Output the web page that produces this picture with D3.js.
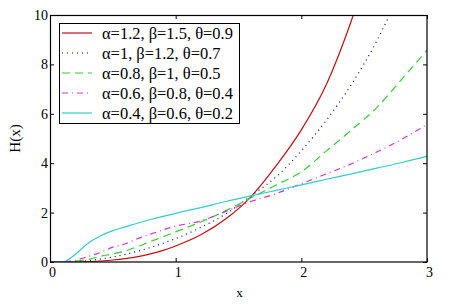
<!DOCTYPE html>
<html>
<head>
<meta charset="utf-8">
<script src="https://cdn.jsdelivr.net/npm/d3@7"></script>
<style>
  html, body { margin: 0; padding: 0; background: #fff; }
  svg { display: block; }
  svg text { font-family: "Liberation Serif", "Times New Roman", serif !important; fill: #000; }
</style>
</head>
<body>
<svg id="chart" width="457" height="304"></svg>
<script>
// ---- data ----
const xs = [0, 0.1, 0.2, 0.3, 0.4, 0.5, 0.6, 0.7, 0.8, 0.9, 1.0, 1.2, 1.4, 1.6, 1.8, 2.0, 2.2, 2.4, 2.6, 2.8, 3.0];
const seriesLabels = [
  "α=1.2, β=1.5, θ=0.9",
  "α=1, β=1.2, θ=0.7",
  "α=0.8, β=1, θ=0.5",
  "α=0.6, β=0.8, θ=0.4",
  "α=0.4, β=0.6, θ=0.2"
];
const redVals     = [0, 0, 0, 0.01, 0.04, 0.08, 0.14, 0.22, 0.33, 0.47, 0.65, 1.1, 1.75, 2.65, 3.9, 5.35, 7.2, 9.8, 13.0, null, null];
const blueVals    = [0, 0, 0.01, 0.05, 0.12, 0.2, 0.31, 0.44, 0.59, 0.76, 0.95, 1.4, 1.95, 2.68, 3.45, 4.5, 5.75, 7.2, 8.95, 11.1, null];
const greenVals   = [0, 0, 0.03, 0.1, 0.23, 0.33, 0.45, 0.63, 0.83, 1.02, 1.22, 1.62, 2.08, 2.6, 3.12, 3.65, 4.5, 5.35, 6.25, 7.4, 8.58];
const magentaVals = [0, 0, 0.07, 0.22, 0.38, 0.6, 0.74, 0.95, 1.13, 1.3, 1.45, 1.66, 2.05, 2.45, 2.77, 3.17, 3.57, 3.98, 4.45, 4.97, 5.57];
const cyanVals    = [0, 0, 0.3, 0.75, 1.05, 1.27, 1.42, 1.58, 1.72, 1.85, 1.97, 2.2, 2.45, 2.68, 2.9, 3.12, 3.35, 3.57, 3.8, 4.03, 4.28];
const xTicks = [0, 1, 2, 3];
const yTicks = [0, 2, 4, 6, 8, 10];
const xLabel = "x";
const yLabel = "H(x)";

const allVals = [redVals, blueVals, greenVals, magentaVals, cyanVals];
const colors = ["#c41010", "#000080", "#33cc33", "#cc33cc", "#33cccc"];
const dashes = [null, "1,4", "8,5", "6,4,1,4", null];

// ---- layout ----
const W = 457, H = 304;
const m = { left: 50, right: 30, top: 15, bottom: 42 };
const svg = d3.select("#chart").attr("font-family", '"Liberation Serif", serif');
const x = d3.scaleLinear().domain([0, 3]).range([m.left, W - m.right]);
const y = d3.scaleLinear().domain([0, 10]).range([H - m.bottom, m.top]);

svg.append("defs").append("clipPath").attr("id", "plotClip")
  .append("rect")
  .attr("x", x(0)).attr("y", y(10))
  .attr("width", x(3) - x(0)).attr("height", y(0) - y(10));

// ---- curves ----
const line = d3.line()
  .defined(d => d[1] != null)
  .x(d => x(d[0])).y(d => y(d[1]))
  .curve(d3.curveMonotoneX);

const plot = svg.append("g").attr("clip-path", "url(#plotClip)");
allVals.forEach((vals, i) => {
  const pts = xs.map((xv, j) => [xv, vals[j]]);
  plot.append("path")
    .attr("d", line(pts))
    .attr("fill", "none")
    .attr("stroke", colors[i])
    .attr("stroke-width", 1.2)
    .attr("stroke-dasharray", dashes[i]);
});

// ---- axes (inward ticks on all sides) ----
const fontSize = 14;
const bottomAxis = d3.axisBottom(x).tickValues(xTicks).tickSize(-4).tickFormat(d3.format("d"));
const topAxis = d3.axisTop(x).tickValues(xTicks).tickSize(-4).tickFormat("");
const leftAxis = d3.axisLeft(y).tickValues(yTicks).tickSize(-4).tickFormat(d3.format("d"));
const rightAxis = d3.axisRight(y).tickValues(yTicks).tickSize(-4).tickFormat("");

function styleAxis(g) {
  g.attr("font-family", null).attr("font-size", null);
  g.select(".domain").remove();
  g.selectAll(".tick line").attr("stroke", "#000").attr("stroke-width", 1);
  g.selectAll(".tick text")
    .style("font-size", fontSize + "px")
    .attr("fill", "#000");
}

const gB = svg.append("g").attr("transform", `translate(0,${y(0)})`).call(bottomAxis).call(styleAxis);
gB.selectAll(".tick text").attr("y", 5).attr("dx", 2);
const gT = svg.append("g").attr("transform", `translate(0,${y(10)})`).call(topAxis).call(styleAxis);
const gL = svg.append("g").attr("transform", `translate(${x(0)},0)`).call(leftAxis).call(styleAxis);
gL.selectAll(".tick text").attr("x", -2);
const gR = svg.append("g").attr("transform", `translate(${x(3)},0)`).call(rightAxis).call(styleAxis);

// frame
svg.append("rect")
  .attr("x", x(0) + 0.5).attr("y", y(10) + 0.5)
  .attr("width", x(3) - x(0) - 0.5).attr("height", y(0) - y(10) - 0.5)
  .attr("fill", "none").attr("stroke", "#000").attr("stroke-width", 1.2);

// axis titles
svg.append("text")
  .attr("x", (x(0) + x(3)) / 2 + 1).attr("y", 297)
  .attr("text-anchor", "middle")
  .style("font-size", "13px")
  .text(xLabel);
svg.append("text")
  .attr("transform", `translate(20,${(y(0) + y(10)) / 2}) rotate(-90)`)
  .attr("text-anchor", "middle")
  .style("font-size", "15px")
  .text(yLabel);

// ---- legend ----
const lg = svg.append("g");
lg.append("rect")
  .attr("x", 59.5).attr("y", 23.5).attr("width", 180).attr("height", 100)
  .attr("fill", "#fff").attr("stroke", "#000").attr("stroke-width", 1);
const texts = [];
seriesLabels.forEach((lab, i) => {
  const yy = 33 + i * 20;
  lg.append("line")
    .attr("x1", 62).attr("x2", 92).attr("y1", yy).attr("y2", yy)
    .attr("stroke", colors[i]).attr("stroke-width", 1.2)
    .attr("stroke-dasharray", dashes[i]);
  texts.push(lg.append("text")
    .attr("x", 102).attr("y", yy).attr("dy", "0.35em")
    .style("font-size", "15px")
    .text(lab));
});
// scale legend font so the first label spans about the same width as the reference
const w0 = texts[0].node().getComputedTextLength();
const fs = Math.max(12, Math.min(18, 15 * 131 / w0));
texts.forEach(t => t.style("font-size", fs + "px"));
</script>
</body>
</html>
